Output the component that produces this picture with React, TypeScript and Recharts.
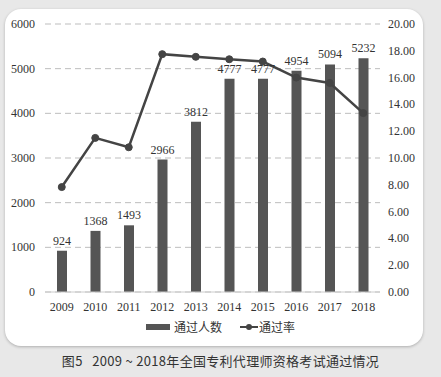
import {
  ComposedChart,
  Bar,
  Line,
  XAxis,
  YAxis,
  CartesianGrid,
  LabelList,
  Legend,
} from 'recharts';

const years = ['2009', '2010', '2011', '2012', '2013', '2014', '2015', '2016', '2017', '2018'];
const passCount = [924, 1368, 1493, 2966, 3812, 4777, 4777, 4954, 5094, 5232];
const passRate = [7.83, 11.5, 10.8, 17.75, 17.55, 17.37, 17.2, 16.0, 15.6, 13.35];
const countTicks = [0, 1000, 2000, 3000, 4000, 5000, 6000];
const rateTicks = [0, 2, 4, 6, 8, 10, 12, 14, 16, 18, 20];

const BAR_COLOR = '#555555';
const LINE_COLOR = '#444444';
const SERIF = '"Liberation Serif", "DejaVu Serif", serif';
const CJK = '"Noto Sans CJK SC", "Noto Sans", sans-serif';

const data = years.map((year, i) => ({
  year,
  count: passCount[i],
  rate: passRate[i],
}));

const tickStyle = { fontFamily: SERIF, fontSize: 12, fill: '#333' };

// serif tick text drawn by hand
const renderXTick = ({ x, y, payload }: any) => (
  <text key={`x-${payload.value}`} x={x} y={y + 17} textAnchor="middle" style={tickStyle}>
    {payload.value}
  </text>
);

const renderLeftTick = ({ x, y, payload }: any) => (
  <text key={`l-${payload.value}`} x={x} y={y + 4} textAnchor="end" style={tickStyle}>
    {payload.value}
  </text>
);

const renderRightTick = ({ x, y, payload }: any) => (
  <text key={`r-${payload.value}`} x={x} y={y + 4} textAnchor="start" style={tickStyle}>
    {Number(payload.value).toFixed(2)}
  </text>
);

const LegendContent = () => (
  <div
    style={{
      display: 'flex',
      justifyContent: 'center',
      alignItems: 'center',
      gap: 18,
      fontFamily: CJK,
      fontSize: 12,
      color: '#333',
    }}
  >
    <div style={{ display: 'flex', alignItems: 'center', gap: 4 }}>
      <div style={{ width: 24, height: 6, background: BAR_COLOR }} />
      <span>通过人数</span>
    </div>
    <div style={{ display: 'flex', alignItems: 'center', gap: 1 }}>
      <svg width={18} height={8}>
        <line x1={0} y1={4} x2={18} y2={4} stroke={LINE_COLOR} strokeWidth={2} />
        <circle cx={9} cy={4} r={3} fill={LINE_COLOR} />
      </svg>
      <span>通过率</span>
    </div>
  </div>
);

export default function App() {
  return (
    <div
      style={{
        position: 'absolute',
        top: 0,
        left: 0,
        width: 441,
        height: 377,
        background: '#e8e8e8',
        overflow: 'hidden',
      }}
    >
      {/* white card */}
      <div
        style={{
          position: 'absolute',
          left: 5,
          top: 9,
          width: 418,
          height: 337,
          background: '#fff',
          borderRadius: 16,
          boxShadow: '0 1px 3px rgba(0,0,0,0.25)',
        }}
      />
      <div style={{ position: 'absolute', left: 0, top: 0 }}>
        <ComposedChart
          width={441}
          height={320}
          data={data}
          margin={{ top: 24, right: 0, bottom: 0, left: 0 }}
        >
          <CartesianGrid
            yAxisId="left"
            vertical={false}
            stroke="#bdbdbd"
            strokeDasharray="6 4"
          />
          <XAxis
            dataKey="year"
            height={28}
            tickLine={false}
            tickSize={0}
            tickMargin={2}
            axisLine={{ stroke: '#cccccc' }}
            tick={renderXTick}
            interval={0}
          />
          <YAxis
            yAxisId="left"
            width={45}
            domain={[0, 6000]}
            ticks={countTicks}
            tickLine={false}
            tickSize={0}
            tickMargin={10}
            axisLine={false}
            tick={renderLeftTick}
          />
          <YAxis
            yAxisId="right"
            orientation="right"
            width={61}
            domain={[0, 20]}
            ticks={rateTicks}
            tickLine={false}
            tickSize={0}
            tickMargin={8}
            axisLine={false}
            tick={renderRightTick}
          />
          <Legend
            verticalAlign="middle"
            content={<LegendContent />}
            wrapperStyle={{ top: 318, left: 0, width: 441 }}
          />
          <Bar
            yAxisId="left"
            dataKey="count"
            name="通过人数"
            fill={BAR_COLOR}
            barSize={10}
            isAnimationActive={false}
          >
            <LabelList
              dataKey="count"
              position="top"
              offset={6}
              style={{ fontFamily: SERIF, fontSize: 12, fill: '#333' }}
            />
          </Bar>
          <Line
            yAxisId="right"
            dataKey="rate"
            name="通过率"
            type="linear"
            stroke={LINE_COLOR}
            strokeWidth={2.5}
            dot={{ r: 3.5, fill: LINE_COLOR, stroke: LINE_COLOR, strokeWidth: 1 }}
            activeDot={false}
            isAnimationActive={false}
          />
        </ComposedChart>
      </div>
      <div
        style={{
          position: 'absolute',
          top: 351,
          left: 0,
          width: 441,
          textAlign: 'center',
          fontFamily: CJK,
          fontSize: 13,
          letterSpacing: 0.3,
          color: '#333',
          whiteSpace: 'pre',
        }}
      >
        图5   2009 ~ 2018年全国专利代理师资格考试通过情况
      </div>
    </div>
  );
}
